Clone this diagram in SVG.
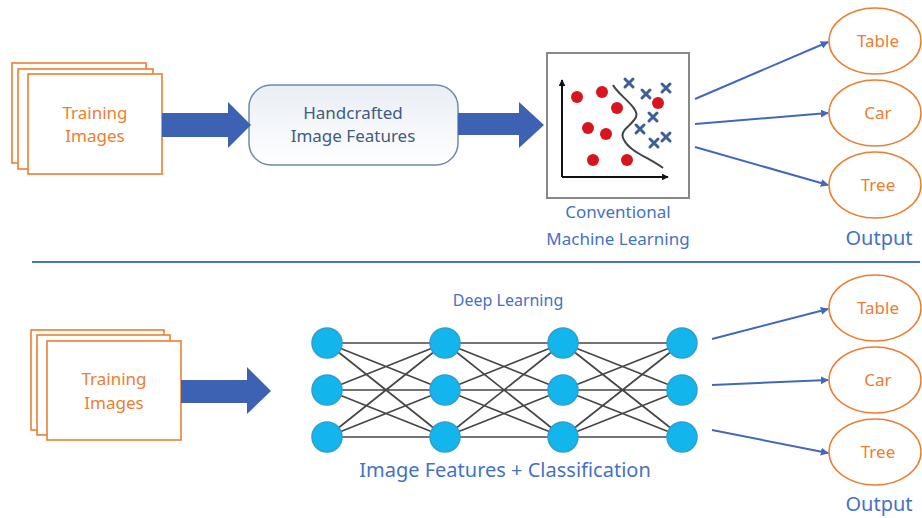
<svg xmlns="http://www.w3.org/2000/svg" width="922" height="518" viewBox="0 0 922 518">
<defs>
<style>
.stack{fill:#fff;stroke:#ED7D31;stroke-width:1.6}
.org{fill:#ED7D31;font-family:"Noto Sans","Open Sans",sans-serif;font-size:17px;text-anchor:middle}
.blu{fill:#4472C4;font-family:"Noto Sans","Open Sans",sans-serif;text-anchor:middle}
.ell{fill:#fff;stroke:#ED7D31;stroke-width:1.5}
.fat{fill:#3D62B3}
.conn{stroke:#4069BE;stroke-width:2;fill:none;marker-end:url(#ah)}
.nn{stroke:#333;stroke-width:1.7;opacity:0.9}
.neu{fill:#13B6EC;stroke:#2F9ED0;stroke-width:1.5}
.red{fill:#D9141E}
.x{stroke:#3C5F9A;stroke-width:3;stroke-linecap:round}
</style>
<marker id="ah" viewBox="0 0 10 10" refX="9" refY="5" markerWidth="8" markerHeight="8" markerUnits="userSpaceOnUse" orient="auto">
<path d="M0,0 L10,5 L0,10 z" fill="#4069BE"/>
</marker>
<marker id="bk" viewBox="0 0 10 10" refX="9" refY="5" markerWidth="7" markerHeight="7" markerUnits="userSpaceOnUse" orient="auto">
<path d="M0,0 L10,5 L0,10 z" fill="#111"/>
</marker>
<linearGradient id="hg" x1="0" y1="0" x2="0" y2="1">
<stop offset="0" stop-color="#E9EEF5"/>
<stop offset="1" stop-color="#FFFFFF"/>
</linearGradient>
</defs>
<rect width="922" height="518" fill="#fff"/>

<g id="train1">
<rect class="stack" x="12" y="63" width="134" height="100"/>
<rect class="stack" x="18" y="69" width="135" height="100"/>
<rect class="stack" x="28" y="74" width="134" height="100"/>
<text class="org" x="95" y="119">Training</text>
<text class="org" x="95" y="142">Images</text>
</g>

<g id="handcrafted">
<rect x="249" y="85" width="209" height="80" rx="22" fill="url(#hg)" stroke="#6F8AAE" stroke-width="1.5"/>
<text x="353" y="119" style="fill:#3E5C82;font-family:'Noto Sans','Open Sans',sans-serif;font-size:17px;text-anchor:middle">Handcrafted</text>
<text x="353" y="142" style="fill:#3E5C82;font-family:'Noto Sans','Open Sans',sans-serif;font-size:17px;text-anchor:middle">Image Features</text>
</g>

<g id="ml">
<rect x="547" y="53" width="142" height="145" fill="#fff" stroke="#888" stroke-width="2"/>
<line x1="562" y1="177" x2="562" y2="80" stroke="#111" stroke-width="2" marker-end="url(#bk)"/>
<line x1="562" y1="177" x2="668" y2="177" stroke="#111" stroke-width="2" marker-end="url(#bk)"/>
<path d="M613,85 C618,95 640,108 636,117 C632,126 618,130 624,140 C630,152 650,158 663,168" fill="none" stroke="#444" stroke-width="2"/>
<circle class="red" cx="577" cy="97" r="6"/>
<circle class="red" cx="602" cy="92" r="6"/>
<circle class="red" cx="617" cy="108" r="6"/>
<circle class="red" cx="588" cy="128" r="6"/>
<circle class="red" cx="606" cy="134" r="6"/>
<circle class="red" cx="593" cy="160" r="6"/>
<circle class="red" cx="627" cy="160" r="6"/>
<circle class="red" cx="658" cy="103" r="6"/>
<g class="x">
<path d="M625,79 l8,8 M633,79 l-8,8"/>
<path d="M642,90 l8,8 M650,90 l-8,8"/>
<path d="M662,84 l8,8 M670,84 l-8,8"/>
<path d="M649,113 l8,8 M657,113 l-8,8"/>
<path d="M636,125 l8,8 M644,125 l-8,8"/>
<path d="M650,139 l8,8 M658,139 l-8,8"/>
<path d="M662,133 l8,8 M670,133 l-8,8"/>
</g>
<text class="blu" x="618" y="218" font-size="17">Conventional</text>
<text class="blu" x="618" y="245" font-size="17">Machine Learning</text>
</g>

<g id="out1-table"><ellipse class="ell" cx="875" cy="41" rx="46" ry="33"/><text class="org" x="878" y="47">Table</text></g>
<g id="out1-car"><ellipse class="ell" cx="875" cy="113" rx="46" ry="33"/><text class="org" x="878" y="119">Car</text></g>
<g id="out1-tree"><ellipse class="ell" cx="875" cy="185" rx="46" ry="33"/><text class="org" x="878" y="191">Tree</text></g>
<text class="blu" x="879" y="245" font-size="20">Output</text>

<line x1="32" y1="262" x2="920" y2="262" stroke="#4472C4" stroke-width="2"/>

<g id="train2">
<rect class="stack" x="31" y="330" width="133" height="100"/>
<rect class="stack" x="37" y="335" width="133" height="100"/>
<rect class="stack" x="47" y="341" width="134" height="99"/>
<text class="org" x="114" y="385">Training</text>
<text class="org" x="114" y="409">Images</text>
</g>

<g id="deep">
<text class="blu" x="508" y="306" font-size="16">Deep Learning</text>
<g class="nn">
<path d="M327,343 L445,343 M327,343 L445,390 M327,343 L445,437 M327,390 L445,343 M327,390 L445,390 M327,390 L445,437 M327,437 L445,343 M327,437 L445,390 M327,437 L445,437"/>
<path d="M445,343 L563,343 M445,343 L563,390 M445,343 L563,437 M445,390 L563,343 M445,390 L563,390 M445,390 L563,437 M445,437 L563,343 M445,437 L563,390 M445,437 L563,437"/>
<path d="M563,343 L682,343 M563,343 L682,390 M563,343 L682,437 M563,390 L682,343 M563,390 L682,390 M563,390 L682,437 M563,437 L682,343 M563,437 L682,390 M563,437 L682,437"/>
</g>
<circle class="neu" cx="327" cy="343" r="15"/><circle class="neu" cx="327" cy="390" r="15"/><circle class="neu" cx="327" cy="437" r="15"/>
<circle class="neu" cx="445" cy="343" r="15"/><circle class="neu" cx="445" cy="390" r="15"/><circle class="neu" cx="445" cy="437" r="15"/>
<circle class="neu" cx="563" cy="343" r="15"/><circle class="neu" cx="563" cy="390" r="15"/><circle class="neu" cx="563" cy="437" r="15"/>
<circle class="neu" cx="682" cy="343" r="15"/><circle class="neu" cx="682" cy="390" r="15"/><circle class="neu" cx="682" cy="437" r="15"/>
<text class="blu" x="505" y="477" font-size="20">Image Features + Classification</text>
</g>

<g id="out2-table"><ellipse class="ell" cx="875" cy="308" rx="46" ry="33"/><text class="org" x="878" y="314">Table</text></g>
<g id="out2-car"><ellipse class="ell" cx="875" cy="380" rx="46" ry="33"/><text class="org" x="878" y="386">Car</text></g>
<g id="out2-tree"><ellipse class="ell" cx="875" cy="452" rx="46" ry="33"/><text class="org" x="878" y="458">Tree</text></g>
<text class="blu" x="879" y="511" font-size="20">Output</text>

<g id="connectors">
<path class="fat" d="M162,113 L228,113 L228,102 L251,125 L228,148 L228,137 L162,137 z"/>
<path class="fat" d="M458,113 L519,113 L519,102 L544,125 L519,148 L519,135 L458,135 z"/>
<path class="fat" d="M181,380 L247,380 L247,367 L271,391 L247,414 L247,403 L181,403 z"/>
<line class="conn" x1="695" y1="99" x2="828" y2="42"/>
<line class="conn" x1="695" y1="124" x2="828" y2="113"/>
<line class="conn" x1="695" y1="147" x2="828" y2="185"/>
<line class="conn" x1="712" y1="339" x2="828" y2="309"/>
<line class="conn" x1="712" y1="385" x2="828" y2="380"/>
<line class="conn" x1="712" y1="430" x2="828" y2="453"/>
</g>
</svg>
